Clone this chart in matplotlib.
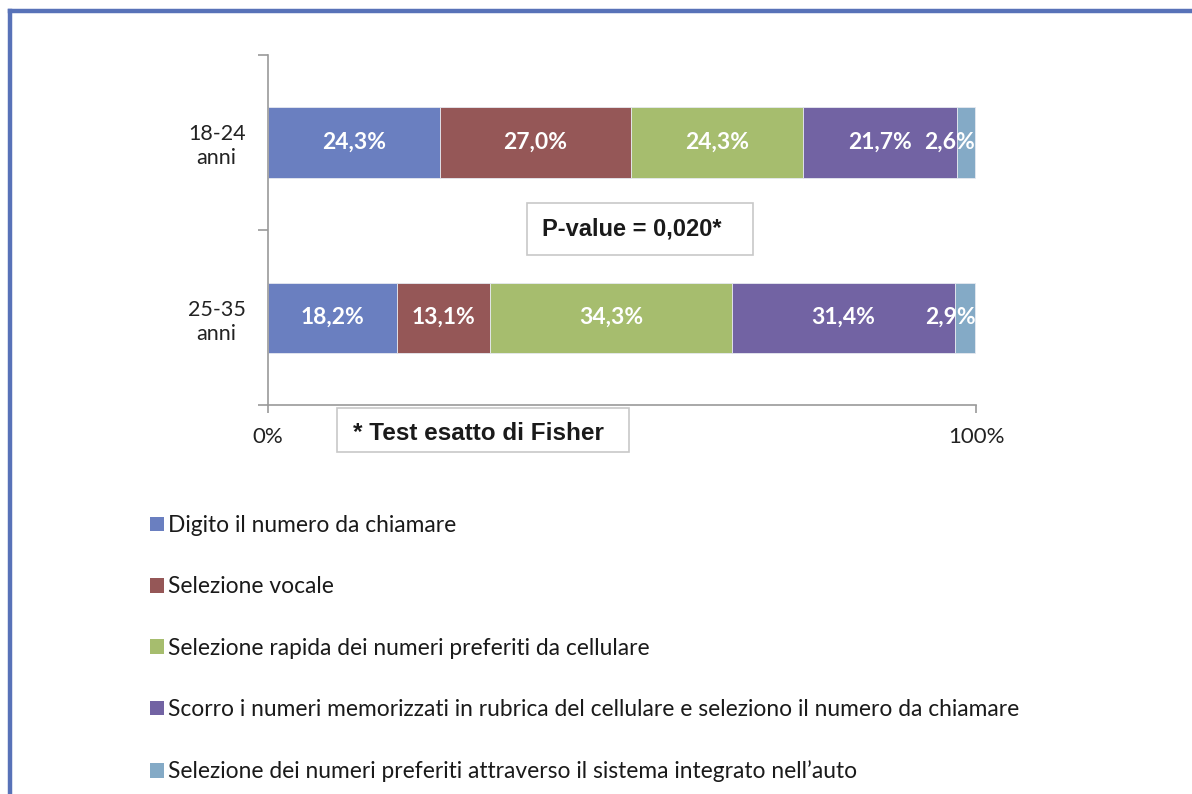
import numpy as np
import matplotlib.pyplot as plt
from matplotlib.lines import Line2D
from matplotlib.patches import Patch, Rectangle

# Age groups (bottom to top) and share of each calling method, in percent
groups = ['25-35\nanni', '18-24\nanni']
methods = [
    'Digito il numero da chiamare',
    'Selezione vocale',
    'Selezione rapida dei numeri preferiti da cellulare',
    'Scorro i numeri memorizzati in rubrica del cellulare e seleziono il numero da chiamare',
    'Selezione dei numeri preferiti attraverso il sistema integrato nell\u2019auto',
]
values = [
    [18.2, 24.3],
    [13.1, 27.0],
    [34.3, 24.3],
    [31.4, 21.7],
    [2.9, 2.6],
]
colors = ['#6A7FC0', '#955757', '#A6BD6E', '#7263A3', '#84AAC6']

label_font = 'Lato'
box_font = 'Liberation Sans'

fig = plt.figure(figsize=(11.92, 7.94), dpi=100)
ax = fig.add_axes([268 / 1192, 1 - 405 / 794, 708 / 1192, 350 / 794])

y = np.arange(len(groups))
left = np.zeros(len(groups))
for vals, col in zip(values, colors):
    vals = np.array(vals)
    bars = ax.barh(y, vals, left=left, height=0.4, color=col,
                   edgecolor='#E6E9F0', linewidth=0.6)
    for b, v in zip(bars, vals):
        txt = f'{v:.1f}%'.replace('.', ',')
        cy = b.get_y() + b.get_height() / 2
        if v < 5:
            # small segments: label runs back over the neighbouring bar
            ax.text(b.get_x() + b.get_width(), cy, txt, ha='right', va='center',
                    color='white', fontsize=16.5, fontweight='bold',
                    family=label_font)
        else:
            ax.text(b.get_x() + b.get_width() / 2, cy, txt, ha='center',
                    va='center', color='white', fontsize=16.5,
                    fontweight='bold', family=label_font)
    left += vals

ax.set_xlim(0, 100)
ax.set_ylim(-0.5, 1.5)

for side in ['top', 'right']:
    ax.spines[side].set_visible(False)
for side in ['left', 'bottom']:
    ax.spines[side].set_color('#9A9A9A')
    ax.spines[side].set_linewidth(1.2)

ax.set_xticks([0, 100])
ax.set_xticklabels(['0%', '100%'], fontsize=16, family=label_font, color='#222222')
ax.tick_params(axis='x', length=6, width=1.2, color='#9A9A9A', pad=10)

ax.set_yticks(y)
ax.set_yticklabels(groups, fontsize=15.5, family=label_font, color='#222222',
                   ha='center', linespacing=1.25)
ax.tick_params(axis='y', which='major', length=0, pad=37)
ax.set_yticks([-0.5, 0.5, 1.5], minor=True)
ax.tick_params(axis='y', which='minor', length=7, width=1.2, color='#9A9A9A')

# Test annotations
ax.add_patch(Rectangle((0.366, 0.4286), 0.319, 0.1486, transform=ax.transAxes,
                       fc='white', ec='#C8C8C8', lw=1.2, zorder=3))
ax.text(0.514, 0.503, 'P-value = 0,020*', transform=ax.transAxes,
        ha='center', va='center', fontsize=17, fontweight='bold',
        family=box_font, color='#1A1A1A', zorder=4)
ax.add_patch(Rectangle((0.0975, -0.1343), 0.4124, 0.1257, transform=ax.transAxes,
                       fc='white', ec='#C8C8C8', lw=1.2, zorder=3, clip_on=False))
ax.text(0.2966, -0.08, '* Test esatto di Fisher', transform=ax.transAxes,
        ha='center', va='center', fontsize=17.5, fontweight='bold',
        family=box_font, color='#1A1A1A', zorder=4)

handles = [Patch(facecolor=c, edgecolor='none') for c in colors]
fig.legend(handles, methods, loc='upper left', bbox_to_anchor=(141 / 1192, 1 - 506 / 794),
           frameon=False, prop={'family': label_font, 'size': 16.4},
           labelcolor='#1A1A1A', handlelength=0.62, handleheight=0.62,
           handletextpad=0.15, labelspacing=1.77, borderaxespad=0)

# Blue frame on the left and top
frame = '#5872B8'
fig.add_artist(Line2D([10 / 1192, 10 / 1192], [0, 1 - 11 / 794],
                      color=frame, lw=3.2, transform=fig.transFigure))
fig.add_artist(Line2D([10 / 1192, 1], [1 - 11 / 794, 1 - 11 / 794],
                      color=frame, lw=3.2, transform=fig.transFigure,
                      solid_capstyle='projecting'))

fig.savefig('out.png', dpi=100)
